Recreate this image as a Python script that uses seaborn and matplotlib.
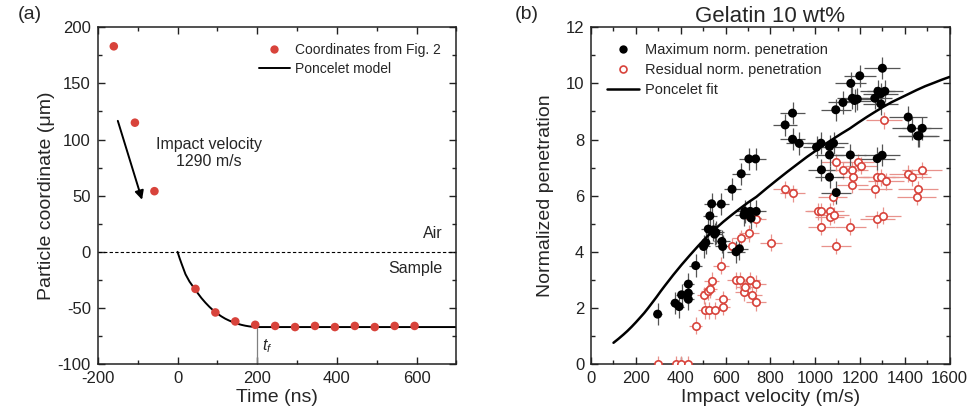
import matplotlib
matplotlib.use('Agg')
import matplotlib.pyplot as plt
from matplotlib.lines import Line2D
from matplotlib.ticker import MultipleLocator
import seaborn as sns

sns.set_style('ticks')
plt.rcParams['font.family'] = ['Liberation Sans', 'DejaVu Sans']
plt.rcParams['axes.unicode_minus'] = False
plt.rcParams['mathtext.fontset'] = 'custom'
plt.rcParams['mathtext.it'] = 'Liberation Sans:italic'

RED = '#d8433b'

# (a) particle trajectory
t_pts = [-160, -107, -58, 45, 95, 145, 195, 245, 295, 345, 395, 445, 495, 545, 595]
z_pts = [183, 115, 54, -33, -54, -62, -65, -66, -67, -66, -67, -66, -67, -66, -66]

t_model = [0, 5, 10, 20, 30, 40, 50, 60, 70, 80, 90, 100, 110, 120, 130, 140,
           150, 160, 170, 180, 190, 200, 700]
z_model = [0, -5.5, -10.5, -20, -26.5, -31.5, -36.5, -41.2, -45.3, -49, -52.3,
           -55, -57.5, -59.6, -61.3, -62.8, -64, -65, -65.8, -66.4, -66.8, -67, -67]

# (b) gelatin 10 wt%
max_v = [297, 375, 393, 404, 434, 434, 434, 467, 502, 512, 523, 530, 538, 546,
         551, 557, 581, 584, 587, 629, 647, 662, 670, 682, 686, 704, 710, 714,
         734, 737, 866, 899, 899, 929, 1006, 1026, 1028, 1064, 1064, 1064, 1082,
         1092, 1094, 1124, 1157, 1159, 1166, 1176, 1188, 1199, 1266, 1277, 1280,
         1293, 1293, 1299, 1300, 1311, 1415, 1430, 1457, 1463, 1478]
max_p = [1.78, 2.17, 2.05, 2.47, 2.53, 2.85, 2.31, 3.51, 4.19, 4.33, 4.81, 5.28,
         5.71, 4.78, 4.63, 4.69, 5.70, 4.37, 4.19, 6.23, 4.0, 4.11, 6.78, 5.31,
         5.44, 7.31, 5.44, 5.20, 7.31, 5.44, 8.52, 8.94, 8.01, 7.86, 7.73, 7.87,
         6.92, 7.45, 6.66, 7.75, 7.87, 9.06, 6.11, 9.32, 7.45, 10.0, 9.47, 9.39,
         9.44, 10.27, 9.47, 7.32, 9.72, 9.63, 9.27, 7.44, 10.54, 9.72, 8.8, 8.4,
         8.13, 8.13, 8.40]
max_verr = [20, 22, 22, 24, 25, 25, 25, 28, 30, 30, 32, 32, 32, 33, 33, 34, 35,
            35, 35, 38, 40, 40, 40, 42, 42, 44, 44, 44, 45, 45, 52, 55, 55, 58,
            60, 62, 62, 65, 65, 65, 66, 66, 66, 68, 70, 70, 70, 71, 72, 72, 75,
            78, 78, 78, 78, 80, 80, 80, 85, 86, 88, 88, 90]
max_perr = 0.4

res_v = [300, 379, 400, 434, 467, 503, 508, 523, 524, 532, 538, 551, 580, 587,
         587, 629, 647, 664, 670, 682, 689, 704, 711, 719, 734, 737, 737, 802,
         866, 899, 1014, 1026, 1028, 1064, 1064, 1078, 1085, 1093, 1094, 1124,
         1157, 1166, 1166, 1169, 1191, 1206, 1268, 1277, 1277, 1295, 1302, 1306,
         1317, 1415, 1430, 1453, 1459, 1478]
res_p = [0, 0, 0, 0, 1.37, 2.45, 1.91, 2.59, 1.91, 2.67, 2.97, 1.91, 3.51, 2.31,
         2.05, 4.21, 2.98, 2.98, 4.49, 2.56, 2.73, 4.66, 2.98, 2.45, 5.17, 2.86,
         2.2, 4.33, 6.23, 6.09, 5.44, 5.44, 4.89, 5.44, 5.25, 5.96, 5.31, 7.19,
         4.21, 6.9, 4.89, 6.9, 6.38, 6.65, 7.19, 7.06, 6.23, 6.65, 5.16, 6.65,
         5.28, 8.68, 6.51, 6.78, 6.65, 5.96, 6.23, 6.9]
res_verr = [20, 24, 25, 26, 28, 30, 30, 32, 32, 32, 32, 33, 35, 35, 35, 38, 40,
            40, 40, 42, 42, 44, 44, 44, 45, 45, 45, 50, 52, 55, 60, 62, 62, 65,
            65, 66, 66, 66, 66, 68, 70, 70, 70, 70, 72, 72, 75, 78, 78, 80, 80,
            80, 80, 85, 86, 88, 88, 90]
res_perr = 0.3

fit_v = [100, 122, 144, 162, 181, 200, 218, 237, 255, 274, 293, 311, 330, 367,
         404, 441, 478, 516, 553, 590, 627, 664, 701, 738, 783, 828, 874, 920,
         963, 1006, 1043, 1080, 1117, 1154, 1192, 1230, 1266, 1303, 1341, 1380,
         1416, 1452, 1491, 1530, 1565, 1600]
fit_p = [0.76, 0.90, 1.05, 1.18, 1.33, 1.49, 1.65, 1.82, 2.00, 2.20, 2.40, 2.60,
         2.80, 3.18, 3.54, 3.88, 4.21, 4.53, 4.81, 5.07, 5.31, 5.54, 5.76, 5.96,
         6.26, 6.55, 6.84, 7.12, 7.38, 7.62, 7.83, 8.02, 8.21, 8.39, 8.60, 8.80,
         8.98, 9.16, 9.33, 9.48, 9.62, 9.76, 9.90, 10.02, 10.13, 10.23]

fig = plt.figure(figsize=(9.69, 4.19), dpi=100)
ax1 = fig.add_axes([0.101, 0.131, 0.370, 0.804])
ax2 = fig.add_axes([0.610, 0.131, 0.370, 0.804])

# ---- panel (a)
ax1.axhline(0, color='black', lw=0.8, ls=(0, (3, 2)), zorder=1)
sns.lineplot(x=t_model, y=z_model, ax=ax1, color='black', lw=1.4, sort=False,
             estimator=None, zorder=2)
sns.scatterplot(x=t_pts, y=z_pts, ax=ax1, color=RED, s=38, edgecolor='none',
                zorder=3)
ax1.plot([200, 200], [-67, -100], color='gray', lw=0.9)
ax1.text(213, -84, r'$t_f$', fontsize=11.5, va='center')
ax1.annotate('', xy=(-87, 44), xytext=(-152, 119),
             arrowprops=dict(arrowstyle='-|>', color='black', lw=1.4,
                             mutation_scale=13))
ax1.text(78, 88, 'Impact velocity\n1290 m/s', ha='center', va='center',
         fontsize=11.5, linespacing=1.2)
ax1.text(665, 16, 'Air', ha='right', va='center', fontsize=11.5)
ax1.text(665, -15, 'Sample', ha='right', va='center', fontsize=11.5)

ax1.set_xlim(-200, 700)
ax1.set_ylim(-100, 200)
ax1.xaxis.set_major_locator(MultipleLocator(200))
ax1.xaxis.set_minor_locator(MultipleLocator(100))
ax1.yaxis.set_major_locator(MultipleLocator(50))
ax1.yaxis.set_minor_locator(MultipleLocator(25))
ax1.set_xlabel('Time (ns)', fontsize=14, labelpad=2)
ax1.set_ylabel('Particle coordinate (\u03bcm)', fontsize=14, labelpad=2)

h1 = [Line2D([], [], ls='none', marker='o', color=RED, ms=6, mec='none'),
      Line2D([], [], color='black', lw=1.4)]
ax1.legend(h1, ['Coordinates from Fig. 2', 'Poncelet model'], loc='upper right',
           frameon=False, fontsize=10, handlelength=2.2, handletextpad=0.4,
           borderaxespad=0.7, labelspacing=0.4)

# ---- panel (b)
ax2.errorbar(res_v, res_p, xerr=res_verr, yerr=res_perr, fmt='none',
             ecolor='#e8928c', elinewidth=0.9, zorder=1)
ax2.errorbar(max_v, max_p, xerr=max_verr, yerr=max_perr, fmt='none',
             ecolor='#555555', elinewidth=0.9, zorder=2)
sns.scatterplot(x=res_v, y=res_p, ax=ax2, marker='o', s=28, facecolor='white',
                edgecolor=RED, linewidth=1.2, zorder=3)
sns.scatterplot(x=max_v, y=max_p, ax=ax2, marker='o', s=42, color='black',
                edgecolor='none', zorder=4)
sns.lineplot(x=fit_v, y=fit_p, ax=ax2, color='black', lw=1.8, sort=False,
             estimator=None, zorder=5)

ax2.set_xlim(0, 1600)
ax2.set_ylim(0, 12)
ax2.xaxis.set_major_locator(MultipleLocator(200))
ax2.xaxis.set_minor_locator(MultipleLocator(100))
ax2.yaxis.set_major_locator(MultipleLocator(2))
ax2.yaxis.set_minor_locator(MultipleLocator(1))
ax2.set_xlabel('Impact velocity (m/s)', fontsize=14, labelpad=2)
ax2.set_ylabel('Normalized penetration', fontsize=14, labelpad=8)
ax2.set_title('Gelatin 10 wt%', fontsize=16, pad=4)

h2 = [Line2D([], [], ls='none', marker='o', color='black', ms=6, mec='none'),
      Line2D([], [], ls='none', marker='o', mfc='white', mec=RED, ms=5, mew=1.2),
      Line2D([], [], color='black', lw=1.8)]
ax2.legend(h2, ['Maximum norm. penetration', 'Residual norm. penetration',
                'Poncelet fit'], loc='upper left', frameon=False, fontsize=10.5,
           handlelength=2.2, handletextpad=0.4, borderaxespad=0.7,
           labelspacing=0.4)

for ax in (ax1, ax2):
    ax.tick_params(which='both', direction='in', top=True, right=True,
                   labelsize=12, colors='#222222', pad=5)
    ax.tick_params(which='major', length=5, width=1)
    ax.tick_params(which='minor', length=3, width=1)
    for sp in ax.spines.values():
        sp.set_linewidth(1.1)
        sp.set_color('#222222')

fig.text(0.018, 0.965, '(a)', fontsize=14, va='center')
fig.text(0.531, 0.965, '(b)', fontsize=14, va='center')

fig.savefig('out.png', dpi=100)
